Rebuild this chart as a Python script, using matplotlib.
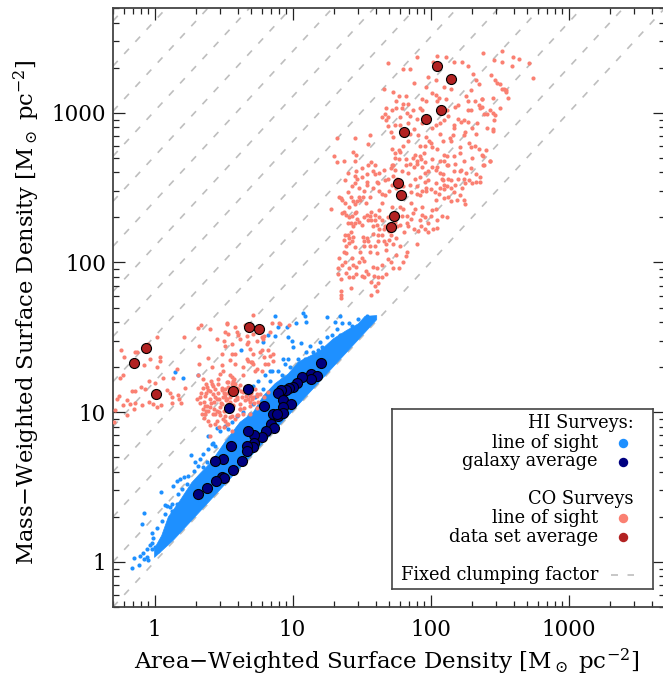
# Clumping plot: mass weighted vs area weighted surface density
# HI and CO surveys, line of sight points and averages
# all the points are (log10 area weighted, log10 mass weighted)

import numpy as np
import matplotlib
matplotlib.use("Agg")
import matplotlib.pyplot as plt

plt.rcParams["font.family"] = "DejaVu Serif"
plt.rcParams["mathtext.fontset"] = "dejavuserif"

# DATA

axis_limits = [0.5, 5000]
tick_values = [1, 10, 100, 1000]
tick_labels = ["1", "10", "100", "1000"]
clumping_factors = [1, 2, 4, 8, 16, 32, 64, 128, 256, 512, 1024, 2048, 4096, 8192]

# CO data set averages
co_average = [(2.049, 3.313), (2.149, 3.224), (2.076, 3.015), (1.970, 2.959), (1.806, 2.868),
              (1.762, 2.530), (1.788, 2.447), (1.738, 2.313), (1.712, 2.236), (0.685, 1.572),
              (0.757, 1.556), (-0.064, 1.428), (-0.146, 1.331), (0.013, 1.122), (0.571, 1.142)]

# HI galaxy averages
hi_average = [(1.209, 1.329), (1.134, 1.256), (1.180, 1.240), (1.132, 1.220), (1.067, 1.234),
              (1.033, 1.194), (1.006, 1.167), (0.975, 1.160), (0.953, 1.147), (0.914, 1.151),
              (0.897, 1.131), (0.929, 1.084), (0.987, 1.053), (0.933, 1.033), (0.791, 1.042),
              (0.675, 1.156), (0.542, 1.031), (0.857, 0.991), (0.897, 0.973), (0.929, 0.993),
              (0.886, 0.989), (0.844, 0.920), (0.866, 0.895), (0.806, 0.877), (0.779, 0.835),
              (0.721, 0.848), (0.675, 0.873), (0.721, 0.795), (0.716, 0.766), (0.673, 0.773),
              (0.668, 0.744), (0.552, 0.777), (0.632, 0.672), (0.496, 0.690), (0.438, 0.677),
              (0.567, 0.615), (0.487, 0.566), (0.506, 0.559), (0.446, 0.543), (0.378, 0.492),
              (0.313, 0.456)]

# CO line of sight, molecular clouds at the top right
co_clouds = [(2.38, 3.40), (2.52, 3.41), (2.46, 3.355), (2.52, 3.34), (2.60, 3.37), (2.64, 3.36),
             (2.59, 3.31), (2.71, 3.33), (2.74, 3.23), (2.44, 3.25), (2.47, 3.22), (2.485, 3.20),
             (2.50, 3.19), (2.52, 3.16), (2.53, 3.155), (2.55, 3.15), (2.55, 3.14), (2.56, 3.10),
             (2.37, 3.09), (2.45, 3.095), (2.37, 3.04), (2.50, 3.03), (2.43, 3.015), (2.455, 3.0),
             (2.47, 2.985), (2.39, 2.99), (2.41, 2.99), (2.46, 2.95), (2.41, 2.90), (2.455, 2.89),
             (2.45, 2.88), (2.40, 2.75), (2.37, 2.72), (2.43, 2.68), (2.39, 2.65),
             (2.05, 3.38), (2.11, 3.37), (1.90, 3.37), (2.02, 3.34), (2.17, 3.34), (2.23, 3.34),
             (2.27, 3.31), (1.69, 3.33), (1.80, 3.29), (1.85, 3.29), (2.31, 3.26), (1.98, 3.24),
             (2.04, 3.22), (2.33, 3.22), (1.88, 3.20), (1.97, 3.17), (2.10, 3.17), (2.15, 3.16),
             (2.35, 3.19), (1.66, 3.16), (1.73, 3.14), (2.01, 3.13), (2.29, 3.15), (2.04, 3.12),
             (1.77, 3.11), (1.82, 3.11), (1.94, 3.09), (1.97, 3.08), (2.06, 3.10), (2.11, 3.09),
             (2.26, 3.11), (2.27, 3.08), (2.32, 3.08), (2.37, 3.09), (1.75, 3.08), (1.80, 3.06),
             (1.84, 3.06), (2.05, 3.08), (2.20, 3.05), (2.18, 3.04), (2.35, 3.05), (2.36, 3.03),
             (1.68, 3.03), (1.75, 3.03), (1.79, 3.03), (1.87, 3.02), (1.92, 3.03), (1.94, 3.02),
             (1.72, 3.02), (2.27, 3.02), (2.29, 3.02), (1.83, 3.00), (1.67, 2.99), (1.65, 2.97),
             (1.69, 2.97), (1.68, 2.95), (2.13, 2.98), (2.20, 2.96), (2.24, 2.95), (2.22, 2.94),
             (2.17, 2.92), (2.27, 2.94), (1.74, 2.92), (1.78, 2.92), (1.69, 2.91), (2.01, 2.90),
             (2.04, 2.92), (2.07, 2.93), (1.88, 2.89), (2.17, 2.90), (1.71, 2.87), (1.85, 2.86),
             (1.91, 2.85), (2.07, 2.86), (2.25, 2.87), (2.24, 2.85), (2.14, 2.83), (2.16, 2.85),
             (1.32, 2.83), (1.45, 2.83), (1.56, 2.85), (1.73, 2.84), (1.97, 2.84), (1.99, 2.81),
             (1.84, 2.81), (2.09, 2.81), (2.15, 2.81), (1.55, 2.79), (1.92, 2.78), (2.01, 2.77),
             (2.21, 2.77), (2.29, 2.77), (2.32, 2.78), (2.35, 2.76), (1.72, 2.76), (1.77, 2.75),
             (1.74, 2.73), (1.78, 2.74), (1.44, 2.74), (1.46, 2.72), (1.30, 2.71), (1.37, 2.68),
             (1.32, 2.67), (1.45, 2.68), (1.89, 2.72), (1.92, 2.71), (1.87, 2.70), (1.90, 2.68),
             (1.93, 2.69), (1.85, 2.66), (1.90, 2.66), (1.82, 2.69), (1.77, 2.69), (1.74, 2.70),
             (2.01, 2.69), (2.07, 2.68), (2.12, 2.71), (2.17, 2.71), (2.21, 2.73), (2.30, 2.70),
             (2.38, 2.71), (2.43, 2.68), (2.38, 2.65), (2.24, 2.68), (2.12, 2.65), (2.18, 2.66),
             (2.05, 2.64), (2.01, 2.64), (1.96, 2.60), (1.98, 2.61), (1.92, 2.57), (2.09, 2.59),
             (2.08, 2.56), (2.17, 2.61), (2.21, 2.61), (2.29, 2.63), (2.33, 2.59), (2.36, 2.57),
             (2.33, 2.54), (2.36, 2.54), (2.24, 2.56), (2.25, 2.53), (2.20, 2.56), (2.13, 2.56),
             (2.12, 2.51), (2.15, 2.50), (2.10, 2.49), (1.98, 2.55), (1.96, 2.54), (1.97, 2.50),
             (1.97, 2.48), (2.00, 2.49), (2.04, 2.53), (1.72, 2.65), (1.73, 2.65), (1.82, 2.65),
             (1.79, 2.61), (1.71, 2.63), (1.89, 2.56), (1.55, 2.65), (1.57, 2.67), (1.60, 2.65),
             (1.50, 2.63), (1.46, 2.61), (1.40, 2.60), (1.38, 2.55), (1.45, 2.58), (1.54, 2.59),
             (1.60, 2.59), (1.63, 2.60), (1.43, 2.51), (1.45, 2.53), (1.54, 2.54), (1.54, 2.52),
             (1.61, 2.54), (1.62, 2.53), (1.69, 2.56), (1.73, 2.58), (1.80, 2.51), (1.75, 2.50),
             (1.63, 2.48), (1.65, 2.46), (1.67, 2.45), (1.86, 2.47), (1.90, 2.46), (1.92, 2.45),
             (1.40, 2.47), (1.42, 2.44), (1.44, 2.41), (1.45, 2.39), (1.36, 2.42), (1.48, 2.44),
             (1.51, 2.44), (1.56, 2.44), (1.28, 2.36), (1.37, 2.34), (1.39, 2.32), (1.43, 2.31),
             (1.46, 2.34), (1.42, 2.26), (1.45, 2.26), (1.48, 2.27), (1.54, 2.32), (1.57, 2.34),
             (1.60, 2.32), (1.63, 2.35), (1.55, 2.28), (1.57, 2.28), (1.61, 2.25), (1.65, 2.28),
             (1.67, 2.24), (1.63, 2.22), (1.72, 2.37), (1.78, 2.37), (1.83, 2.31), (1.89, 2.36),
             (1.94, 2.32), (1.96, 2.30), (1.92, 2.28), (1.83, 2.26), (1.78, 2.25), (2.01, 2.35),
             (2.04, 2.36), (2.08, 2.31), (2.12, 2.30), (1.98, 2.26), (2.02, 2.22), (2.05, 2.23),
             (1.98, 2.20), (1.91, 2.21), (1.88, 2.22), (1.84, 2.24), (1.81, 2.20), (1.75, 2.16),
             (1.71, 2.18), (1.86, 2.40), (2.04, 2.42), (2.13, 2.44), (2.19, 2.42), (2.24, 2.42),
             (2.25, 2.39), (2.21, 2.45), (1.94, 2.37), (1.65, 2.40), (1.38, 2.18), (1.37, 2.15),
             (1.42, 2.20), (1.44, 2.17), (1.43, 2.14), (1.39, 2.11), (1.51, 2.17), (1.54, 2.16),
             (1.55, 2.14), (1.52, 2.11), (1.56, 2.11), (1.62, 2.18), (1.62, 2.14), (1.66, 2.14),
             (1.73, 2.12), (1.90, 2.12), (1.37, 2.07), (1.39, 2.06), (1.34, 2.03), (1.43, 2.03),
             (1.50, 2.03), (1.52, 2.01), (1.56, 2.07), (1.61, 2.06), (1.68, 2.08), (1.69, 2.02),
             (1.75, 2.05), (1.83, 2.07), (1.82, 2.04), (1.80, 2.00), (1.38, 2.00), (1.33, 1.96),
             (1.44, 1.98), (1.46, 1.97), (1.39, 1.93), (1.33, 1.92), (1.35, 1.89), (1.44, 1.90),
             (1.50, 1.91), (1.55, 1.92), (1.61, 1.96), (1.62, 1.90), (1.68, 1.92), (1.77, 1.96),
             (1.73, 1.96), (1.57, 1.87), (1.62, 1.86), (1.60, 1.84), (1.61, 1.81), (1.42, 1.83),
             (1.35, 1.81), (1.35, 1.76), (1.57, 1.78), (1.35, 1.78),
             (1.35, 2.43), (1.34, 2.44), (1.38, 2.40), (1.41, 2.37), (1.47, 2.41), (1.49, 2.42),
             (1.53, 2.40), (1.36, 2.33), (1.41, 2.30), (1.45, 2.33), (1.40, 2.26), (1.44, 2.24),
             (1.47, 2.29), (1.50, 2.25), (1.52, 2.30), (1.56, 2.31), (1.58, 2.24), (1.60, 2.28),
             (1.63, 2.30), (1.66, 2.22), (1.69, 2.30), (1.70, 2.21), (1.74, 2.27), (1.76, 2.24),
             (1.79, 2.31), (1.80, 2.36), (1.86, 2.29), (1.87, 2.33), (1.93, 2.24), (1.96, 2.22),
             (2.00, 2.31), (2.05, 2.28), (1.41, 2.16), (1.40, 2.18), (1.41, 2.13), (1.45, 2.10),
             (1.49, 2.07), (1.52, 2.14), (1.58, 2.19), (1.60, 2.11), (1.65, 2.18), (1.68, 2.12),
             (1.70, 2.15), (1.78, 2.11), (1.36, 1.98), (1.41, 1.96), (1.48, 2.00), (1.53, 1.94),
             (1.58, 1.97), (1.65, 1.98), (1.71, 2.00), (1.46, 1.92), (1.41, 1.90), (1.52, 1.90),
             (1.59, 1.91), (1.65, 1.90), (2.04, 2.62), (2.07, 2.60), (2.09, 2.55), (2.07, 2.50),
             (2.10, 2.52), (2.15, 2.55), (2.18, 2.52), (2.17, 2.47), (2.23, 2.50), (2.28, 2.55),
             (2.30, 2.53), (2.22, 2.62), (2.26, 2.60), (2.13, 2.65), (2.10, 2.68), (1.96, 2.67),
             (1.94, 2.64), (1.88, 2.64), (1.84, 2.60), (1.74, 2.62), (1.67, 2.55), (1.72, 2.52),
             (1.76, 2.56), (1.85, 2.52), (1.90, 2.51), (1.94, 2.48), (2.03, 2.47), (2.06, 2.46),
             (2.10, 2.43), (2.15, 2.41), (1.78, 2.46), (1.70, 2.48), (1.58, 2.50), (1.52, 2.48),
             (1.48, 2.50), (1.47, 2.56), (1.50, 2.57), (1.58, 2.61), (1.66, 2.62), (1.94, 2.93),
             (1.97, 2.97), (1.90, 2.96), (1.84, 2.93), (2.10, 2.95), (2.30, 2.90), (2.34, 2.93),
             (2.33, 2.86), (2.28, 2.80), (2.12, 3.02), (1.85, 2.98), (1.78, 2.97), (2.00, 2.80),
             (1.96, 2.78), (2.05, 2.76), (2.10, 2.72), (1.95, 2.73), (1.80, 2.78)]

# CO line of sight, nearby galaxies at the left
co_galaxies = [(-0.245, 1.416), (-0.22, 1.37), (-0.14, 1.40), (-0.13, 1.405), (-0.05, 1.456),
               (0.02, 1.505), (0.04, 1.367), (-0.03, 1.356), (0.04, 1.34), (-0.08, 1.316),
               (0.02, 1.30), (-0.225, 1.245), (-0.25, 1.23), (-0.04, 1.21), (0.0, 1.196),
               (0.06, 1.23), (-0.10, 1.167), (-0.07, 1.156), (-0.165, 1.14), (-0.14, 1.14),
               (-0.26, 1.105), (-0.27, 1.09), (-0.20, 1.08), (-0.18, 1.055), (-0.14, 1.06),
               (-0.225, 1.045), (-0.09, 1.045), (-0.04, 1.07), (-0.01, 1.055), (0.045, 1.05),
               (0.016, 1.033), (-0.15, 1.018), (-0.20, 0.978), (-0.286, 1.015), (-0.293, 0.937),
               (0.09, 1.15), (0.11, 1.127), (0.17, 1.118), (0.22, 1.162), (0.125, 1.10),
               (0.125, 1.062), (0.18, 1.09), (0.19, 1.062), (0.137, 1.227), (0.16, 1.29),
               (0.214, 1.505), (0.318, 1.56), (0.335, 1.579), (0.40, 1.557), (0.523, 1.594),
               (0.584, 1.568), (0.716, 1.65), (0.668, 1.507), (0.68, 1.467), (0.74, 1.478),
               (0.85, 1.594), (0.90, 1.597), (0.837, 1.534), (0.79, 1.507), (0.51, 1.534),
               (0.608, 1.516), (0.45, 1.49), (0.325, 1.445), (0.50, 1.478), (0.56, 1.456),
               (0.69, 1.423), (0.777, 1.412), (0.86, 1.39), (0.79, 1.367), (0.716, 1.39),
               (0.673, 1.356), (0.70, 1.334), (0.584, 1.39), (0.39, 1.361), (0.325, 1.323),
               (0.547, 1.35), (0.487, 1.312), (0.415, 1.30), (0.644, 1.30), (0.74, 1.29),
               (0.825, 1.323), (0.318, 1.245), (0.354, 1.222), (0.475, 1.256), (0.547, 1.245),
               (0.576, 1.222), (0.523, 1.20), (0.463, 1.19), (0.427, 1.178), (0.44, 1.156),
               (0.39, 1.145), (0.487, 1.145), (0.535, 1.167), (0.62, 1.182), (0.644, 1.133),
               (0.692, 1.11), (0.74, 1.122), (0.79, 1.10), (0.825, 1.133), (0.596, 1.10),
               (0.51, 1.10), (0.547, 1.067), (0.45, 1.089), (0.366, 1.11), (0.33, 1.10),
               (0.31, 1.089), (0.366, 1.044), (0.40, 1.033), (0.475, 1.033), (0.427, 0.989),
               (0.366, 0.989), (0.342, 0.989), (0.39, 0.944), (0.40, 0.915), (0.45, 0.944),
               (0.51, 0.944), (0.584, 0.955), (0.608, 0.98), (0.692, 1.067), (0.75, 1.067),
               (0.62, 1.056), (0.50, 0.90), (0.56, 0.877), (0.40, 0.844), (0.644, 0.989),
               (0.692, 0.989), (0.584, 1.133), (0.716, 1.10), (0.656, 1.167), (0.415, 1.19),
               (0.51, 1.122), (0.40, 1.089), (0.57, 1.20), (0.535, 1.055), (0.44, 0.989),
               (0.475, 0.978),
               (0.559, 1.233), (0.571, 1.211), (0.535, 1.20), (0.583, 1.189), (0.51, 1.155),
               (0.607, 1.155), (0.499, 1.10), (0.523, 1.089), (0.487, 1.055), (0.595, 1.089),
               (0.631, 1.10), (0.656, 1.078), (0.704, 1.089), (0.74, 1.11), (0.764, 1.122),
               (0.728, 1.155), (0.692, 1.044), (0.62, 1.022), (0.559, 0.977), (0.51, 0.977),
               (0.494, 0.955), (0.523, 0.92), (0.571, 1.044), (0.644, 1.245), (0.68, 1.345),
               (0.704, 1.334), (0.716, 1.323), (0.728, 1.278), (0.776, 1.278), (0.80, 1.323),
               (0.837, 1.378), (0.861, 1.345), (0.764, 1.40), (0.825, 1.412), (0.668, 1.456),
               (0.62, 1.49), (0.716, 1.523), (0.776, 1.50), (0.789, 1.49), (0.535, 1.523),
               (0.51, 1.445), (0.487, 1.39), (0.559, 1.39), (0.583, 1.323), (0.499, 1.278),
               (0.656, 1.579), (0.523, 1.59), (0.595, 1.534), (0.909, 1.59), (0.977, 1.583),
               (0.35, 1.16), (0.37, 1.13), (0.38, 1.17), (0.40, 1.14), (0.42, 1.12), (0.43, 1.07),
               (0.44, 1.10), (0.46, 1.13), (0.47, 1.09), (0.48, 1.06), (0.49, 1.16), (0.50, 1.13),
               (0.52, 1.08), (0.53, 1.13), (0.55, 1.10), (0.55, 1.03), (0.57, 1.05), (0.58, 1.08),
               (0.36, 1.07), (0.38, 1.04), (0.35, 1.02), (0.37, 1.01), (0.39, 1.01), (0.41, 1.06),
               (0.43, 1.02), (0.45, 1.01), (0.47, 1.00), (0.50, 1.01), (0.52, 1.02), (0.36, 0.96),
               (0.33, 1.06), (0.34, 1.13), (0.37, 1.19), (0.41, 1.21), (0.46, 1.22), (0.56, 1.19),
               (0.60, 1.16), (0.63, 1.14), (0.66, 1.11), (0.68, 1.09), (0.70, 1.13), (0.72, 1.06),
               (0.74, 1.03), (0.62, 1.02), (0.65, 1.03), (0.60, 0.98), (0.55, 0.97), (0.44, 0.92),
               (0.47, 0.90), (0.53, 0.92)]

# HI line of sight points that sit away from the solid part of the wedge
hi_scatter = [(-0.16, -0.043), (-0.11, -0.018), (-0.146, 0.027), (-0.105, 0.042), (-0.086, 0.06),
              (-0.076, 0.02), (-0.057, 0.03), (-0.05, 0.015), (-0.057, 0.087), (-0.033, 0.113),
              (-0.02, 0.087), (-0.016, 0.127), (0.027, 0.076), (0.003, 0.098), (-0.008, 0.158),
              (-0.016, 0.194), (0.016, 0.225), (0.052, 0.27), (-0.093, 0.254), (-0.074, 0.325),
              (0.045, 0.465), (0.076, 0.38), (0.088, 0.376), (0.124, 0.387), (0.124, 0.343),
              (0.136, 0.505), (0.16, 0.543), (0.185, 0.554), (0.216, 0.565), (0.172, 0.454),
              (0.16, 0.387), (0.197, 0.487), (0.233, 0.521), (0.262, 0.717), (0.293, 0.666),
              (0.312, 0.639), (0.286, 0.61), (0.33, 0.688), (0.354, 0.72), (0.385, 0.755),
              (0.426, 0.795), (0.438, 0.777), (0.378, 0.666), (0.354, 0.632), (0.245, 0.577),
              (0.076, 0.32), (0.112, 0.365),
              (1.078, 1.663), (1.09, 1.64), (1.095, 1.605), (1.247, 1.634), (1.344, 1.641),
              (1.41, 1.596), (1.308, 1.605), (1.356, 1.596), (1.283, 1.516), (1.344, 1.512),
              (1.247, 1.50), (1.13, 1.445), (1.21, 1.434), (1.187, 1.412), (1.06, 1.46),
              (0.994, 1.472), (1.006, 1.434), (0.97, 1.50), (0.957, 1.567), (1.025, 1.596),
              (0.873, 1.64), (0.897, 1.567), (0.624, 1.412), (0.873, 1.507), (0.789, 1.467),
              (0.825, 1.512), (0.933, 1.356), (0.97, 1.352), (0.945, 1.323), (0.849, 1.278),
              (0.921, 1.245), (0.752, 1.211), (0.80, 1.245), (0.837, 1.211), (0.716, 1.178),
              (0.789, 1.155), (0.668, 1.122), (0.728, 1.10), (0.716, 1.055), (0.644, 1.0),
              (0.595, 0.977), (0.559, 0.933), (0.51, 0.91), (0.535, 0.888), (0.583, 0.877),
              (0.692, 0.989), (0.982, 1.30), (1.042, 1.356), (1.10, 1.40), (1.15, 1.40),
              (1.09, 1.356), (1.2, 1.467), (1.32, 1.556), (1.43, 1.578), (1.477, 1.623),
              (1.537, 1.645), (0.897, 1.278), (0.837, 1.278),
              (0.149, 1.267), (0.204, 1.227), (0.313, 1.245), (0.45, 0.893), (0.475, 0.877),
              (0.39, 0.844), (0.414, 0.788)]

# outline of the part of the HI wedge where the points merge into solid colour
hi_wedge = [(0.0, 0.03), (0.136, 0.145), (0.34, 0.348), (0.51, 0.518), (0.79, 0.798), (1.2, 1.208),
            (1.61, 1.618), (1.61, 1.645), (1.525, 1.64), (1.477, 1.59), (1.39, 1.545), (1.296, 1.49),
            (1.2, 1.41), (1.04, 1.334), (0.97, 1.256), (0.873, 1.19), (0.79, 1.11), (0.716, 1.0),
            (0.62, 0.933), (0.51, 0.80), (0.41, 0.666), (0.33, 0.59), (0.27, 0.53), (0.185, 0.41),
            (0.10, 0.30), (0.052, 0.176), (0.0, 0.09)]


def split_points(points):
    arr = 10.0 ** np.array(points)
    return arr[:, 0], arr[:, 1]


# PLOT

dash_style = (0, (4.2, 5.7))

fig = plt.figure(figsize=(6.63, 6.77), dpi=100)
# the right edge of the frame runs just off the picture
ax = fig.add_axes([113 / 663, 70 / 677, 552 / 663, 599 / 677])
ax.set_xscale("log")
ax.set_yscale("log")
ax.set_xlim(axis_limits)
ax.set_ylim(axis_limits)

limits = np.array(axis_limits)
for factor in clumping_factors:
    ax.plot(limits, limits * factor, color="#bebebe", lw=1.2, ls=dash_style, zorder=1)

wedge_x, wedge_y = split_points(hi_wedge)
ax.fill(wedge_x, wedge_y, color="dodgerblue", lw=0.5, zorder=2)
x, y = split_points(hi_scatter)
ax.scatter(x, y, s=9, color="dodgerblue", lw=0, zorder=2)

for points in [co_clouds, co_galaxies]:
    x, y = split_points(points)
    ax.scatter(x, y, s=9, color="salmon", lw=0, zorder=3)

x, y = split_points(hi_average)
ax.scatter(x, y, s=52, color="navy", edgecolor="black", lw=0.8, zorder=4)
x, y = split_points(co_average)
ax.scatter(x, y, s=52, color="firebrick", edgecolor="black", lw=0.8, zorder=4)

ax.set_xticks(tick_values)
ax.set_xticklabels(tick_labels)
ax.set_yticks(tick_values)
ax.set_yticklabels(tick_labels)
ax.tick_params(which="major", direction="in", top=True, right=True, length=8.3, width=0.9,
               color="#222222", labelsize=15.5, pad=9)
ax.tick_params(which="minor", direction="in", top=True, right=True, length=4.3, width=0.9,
               color="#222222")
ax.tick_params(axis="y", which="major", pad=5)
for spine in ax.spines.values():
    spine.set_linewidth(1.3)
    spine.set_color("#444444")

fig.text(387 / 663, 1 - 662 / 677, "Area\u2212Weighted Surface Density [M$_\\odot$ pc$^{-2}$]",
         ha="center", va="center", fontsize=16.5)
fig.text(27 / 663, 1 - 312 / 677, "Mass\u2212Weighted Surface Density [M$_\\odot$ pc$^{-2}$]",
         ha="center", va="center", rotation=90, fontsize=16.3)

# legend box, laid out in its own little axes using picture pixels
box = fig.add_axes([392 / 663, 1 - 589 / 677, 261 / 663, 180 / 677], zorder=5)
box.set_xlim(392, 653)
box.set_ylim(589, 409)
box.set_xticks([])
box.set_yticks([])
for spine in box.spines.values():
    spine.set_linewidth(1.2)
    spine.set_color("#444444")

box.text(634, 423, "HI Surveys:", ha="right", va="center", fontsize=12.8)
box.text(598, 442.5, "line of sight", ha="right", va="center", fontsize=12.8)
box.text(598, 461.5, "galaxy average", ha="right", va="center", fontsize=12.8)
box.text(634, 499, "CO Surveys", ha="right", va="center", fontsize=12.8)
box.text(598, 518, "line of sight", ha="right", va="center", fontsize=12.8)
box.text(598, 537, "data set average", ha="right", va="center", fontsize=12.8)
box.text(598, 575, "Fixed clumping factor", ha="right", va="center", fontsize=12.8)
box.plot([623], [442.5], "o", ms=6.8, color="dodgerblue", mew=0)
box.plot([623], [461.5], "o", ms=6.8, color="navy", mew=0)
box.plot([623], [518], "o", ms=6.8, color="salmon", mew=0)
box.plot([623], [537], "o", ms=6.8, color="firebrick", mew=0)
box.plot([611, 634], [574.5, 574.5], color="#bebebe", lw=1.2, ls=dash_style)

plt.savefig("out.png", dpi=100)
plt.close()
